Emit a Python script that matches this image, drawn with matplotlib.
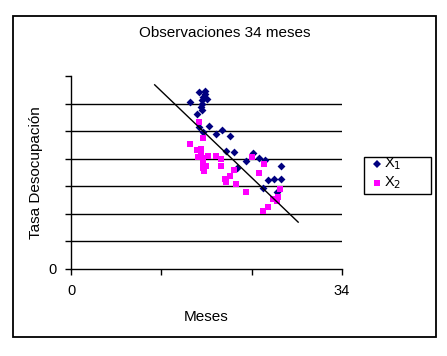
import matplotlib
matplotlib.use("Agg")
import matplotlib.pyplot as plt
from matplotlib.patches import Rectangle
from matplotlib.lines import Line2D

plt.rcParams['font.family'] = ['Liberation Sans', 'DejaVu Sans']

title = "Observaciones 34 meses"
xlabel = "Meses"
ylabel = "Tasa Desocupación"
legend_labels = ["X$_1$", "X$_2$"]

x1_x = [16.1, 16.8, 16.8, 16.6, 17.0, 16.4, 14.9, 16.4, 16.35, 16.4, 15.85, 17.3, 16.1, 16.6,
        18.9, 18.2, 19.95, 19.45, 20.5, 22.8, 22.0, 23.6, 24.3, 26.35, 24.75, 25.5, 26.35,
        20.8, 24.1, 25.8]
x1_y = [6.41, 6.47, 6.35, 6.25, 6.17, 6.13, 6.05, 5.97, 5.86, 5.77, 5.61, 5.19, 5.14, 4.98,
        5.04, 4.88, 4.82, 4.29, 4.23, 4.22, 3.93, 4.01, 3.95, 3.74, 3.23, 3.25, 3.25,
        3.68, 2.93, 2.80]

x2_x = [16.06, 16.5, 14.97, 15.8, 16.3, 16.3, 15.97, 16.6, 17.2, 18.2, 18.8, 16.5, 16.9, 16.5,
        16.7, 18.8, 22.7, 24.25, 20.5, 19.9, 19.3, 19.5, 20.7, 23.6, 22.0, 26.2, 26.0, 25.4,
        25.8, 24.7, 24.05]
x2_y = [5.34, 4.76, 4.52, 4.32, 4.35, 4.19, 4.05, 4.01, 4.11, 4.11, 3.99, 3.83, 3.75, 3.65,
        3.55, 3.74, 4.07, 3.81, 3.59, 3.38, 3.25, 3.17, 3.07, 3.47, 2.80, 2.89, 2.62, 2.53,
        2.47, 2.24, 2.12]

trend_x = [10.5, 28.5]
trend_y = [6.68, 1.70]

x_ticks = [0, 34 / 3, 68 / 3, 34]
x_ticklabels = ["0", "", "", "34"]
y_ticks = [0, 1, 2, 3, 4, 5, 6, 7]
y_ticklabels = ["0", "", "", "", "", "", "", ""]
grid_levels = [1, 2, 3, 4, 5, 6]

C1 = '#000080'
C2 = '#FF00FF'

W, H = 447, 356
fig = plt.figure(figsize=(W / 100, H / 100), dpi=100)
fig.patch.set_facecolor('white')

def fx(px):
    return px / W

def fy(py):
    return 1 - py / H

# outer chart frame
fig.patches.append(Rectangle((fx(13), fy(337)), (436 - 13) / W, (337 - 16) / H,
                             transform=fig.transFigure, fill=False, edgecolor='black',
                             linewidth=1.3))

ax = fig.add_axes([fx(71), fy(269), (342 - 71) / W, (269 - 76) / H])
ax.set_xlim(0, 34)
ax.set_ylim(0, 7)
for g in grid_levels:
    ax.axhline(g, color='black', linewidth=1.0, zorder=1)

ax.scatter(x1_x, x1_y, marker='D', s=16, color=C1, zorder=3, linewidths=0)
ax.scatter(x2_x, x2_y, marker='s', s=22, color=C2, zorder=3, linewidths=0)
ax.plot(trend_x, trend_y, color='black', linewidth=1.0, zorder=4)

for s in ['top', 'right']:
    ax.spines[s].set_visible(False)
for s in ['left', 'bottom']:
    ax.spines[s].set_color('black')
    ax.spines[s].set_linewidth(1.0)

ax.set_xticks(x_ticks)
ax.set_xticklabels(x_ticklabels)
ax.set_yticks(y_ticks)
ax.set_yticklabels(y_ticklabels)
ax.tick_params(axis='both', direction='out', length=4, width=1.0, colors='black',
               labelsize=10.5)
ax.tick_params(axis='x', pad=7)
ax.tick_params(axis='y', pad=6)

ax.set_xlabel(xlabel, fontsize=11)
ax.set_ylabel(ylabel, fontsize=11)
ax.xaxis.set_label_coords(0.5, (269 - 317) / 193, transform=ax.transAxes)
ax.yaxis.set_label_coords((36 - 71) / 271, 0.5, transform=ax.transAxes)
ax.xaxis.label.set_va('center')
ax.yaxis.label.set_va('center')
fig.text(fx(225), fy(33), title, ha='center', va='center', fontsize=11)

# legend box
fig.patches.append(Rectangle((fx(364), fy(194)), (431 - 364) / W, (194 - 157) / H,
                             transform=fig.transFigure, fill=True, facecolor='white',
                             edgecolor='black', linewidth=1.0, zorder=5))
fig.add_artist(Line2D([fx(377)], [fy(164)], marker='D', color=C1, linestyle='None',
                      markersize=3.8, markeredgewidth=0, transform=fig.transFigure, zorder=6))
fig.add_artist(Line2D([fx(377)], [fy(183)], marker='s', color=C2, linestyle='None',
                      markersize=4.8, markeredgewidth=0, transform=fig.transFigure, zorder=6))
fig.text(fx(384), fy(164), legend_labels[0], ha='left', va='center', fontsize=10.5, zorder=6)
fig.text(fx(384), fy(183), legend_labels[1], ha='left', va='center', fontsize=10.5, zorder=6)

fig.savefig("out.png", dpi=100)
